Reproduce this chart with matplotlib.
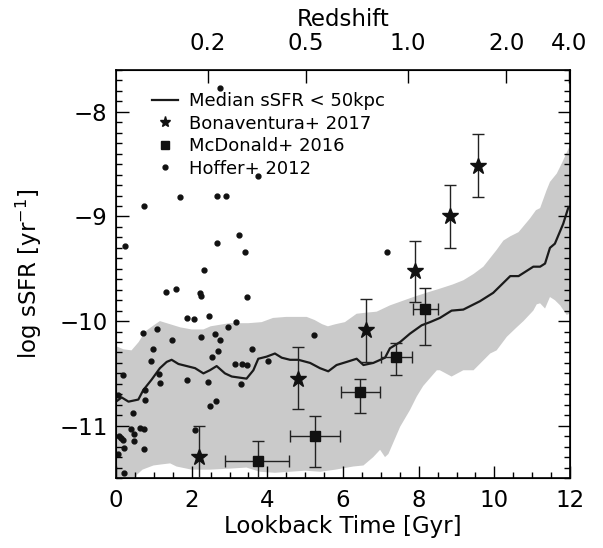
import numpy as np
import matplotlib.pyplot as plt
from matplotlib.ticker import MultipleLocator

# median sSFR within 50 kpc
med_t = [0.0, 0.15, 0.33, 0.59, 0.72, 0.94, 1.16, 1.34, 1.47, 1.65, 1.87, 2.09, 2.31, 2.48,
         2.66, 2.88, 3.06, 3.45, 3.63, 3.76, 3.98, 4.20, 4.38, 4.6, 4.82, 5.13, 5.39, 5.61,
         5.83, 6.10, 6.36, 6.54, 6.80, 7.11, 7.24, 7.51, 7.77, 8.08, 8.30, 8.56, 8.87, 9.18,
         9.62, 9.97, 10.42, 10.64, 11.03, 11.21, 11.34, 11.47, 11.60, 11.82, 11.96]
med_y = [-10.77, -10.73, -10.77, -10.75, -10.66, -10.56, -10.45, -10.39, -10.37, -10.41,
         -10.43, -10.45, -10.50, -10.47, -10.43, -10.50, -10.53, -10.55, -10.47, -10.36,
         -10.34, -10.31, -10.35, -10.37, -10.37, -10.40, -10.45, -10.48, -10.42, -10.39,
         -10.36, -10.42, -10.40, -10.35, -10.26, -10.20, -10.12, -10.04, -10.01, -9.97,
         -9.90, -9.89, -9.81, -9.73, -9.57, -9.57, -9.48, -9.48, -9.45, -9.30, -9.26,
         -9.07, -8.91]

# scatter band
hi_t = [0, 0.2, 0.41, 0.6, 0.77, 1.0, 1.16, 1.43, 1.7, 2.0, 2.31, 2.5, 3.0, 3.5, 3.85, 4.15,
        4.5, 5.04, 5.25, 5.45, 5.6, 5.8, 6.05, 6.36, 6.6, 6.89, 7.24, 7.55, 7.86, 8.2, 8.56,
        8.9, 9.18, 9.45, 9.71, 10.06, 10.24, 10.42, 10.64, 10.94, 11.1, 11.21, 11.38, 11.47,
        11.65, 11.8, 12.0]
hi_y = [-10.24, -10.27, -10.28, -10.2, -10.1, -10.04, -10.0, -10.03, -10.06, -10.08, -10.08,
        -10.05, -10.02, -10.02, -10.01, -9.97, -9.96, -9.96, -9.99, -10.03, -10.05, -10.03,
        -10.01, -9.93, -9.92, -9.91, -9.85, -9.81, -9.77, -9.73, -9.69, -9.65, -9.61, -9.55,
        -9.48, -9.32, -9.23, -9.19, -9.15, -9.02, -8.94, -8.92, -8.75, -8.67, -8.59, -8.48,
        -8.32]
lo_t = [0, 0.45, 0.55, 0.7, 0.99, 1.2, 1.43, 1.6, 2.0, 2.48, 3.01, 3.45, 3.8, 4.2, 4.6, 5.0,
        5.4, 5.8, 6.27, 6.54, 6.8, 6.98, 7.11, 7.2, 7.51, 7.77, 7.95, 8.12, 8.48, 8.56, 8.87,
        9.18, 9.45, 9.89, 10.06, 10.33, 10.59, 10.77, 11.03, 11.12, 11.21, 11.34, 11.47,
        11.6, 11.74, 11.91, 12.0]
lo_y = [-11.6, -11.6, -11.47, -11.42, -11.38, -11.37, -11.36, -11.39, -11.42, -11.42, -11.41,
        -11.4, -11.44, -11.45, -11.44, -11.43, -11.44, -11.42, -11.39, -11.38, -11.3, -11.23,
        -11.3, -11.27, -11.01, -10.85, -10.72, -10.62, -10.47, -10.47, -10.53, -10.47, -10.47,
        -10.31, -10.28, -10.15, -10.06, -10.0, -9.9, -9.84, -9.83, -9.88, -9.77, -9.8, -9.85,
        -9.94, -9.93]

# Bonaventura+ 2017
bon_t = [2.20, 4.80, 6.61, 7.89, 8.84, 9.58]
bon_y = [-11.30, -10.55, -10.09, -9.52, -9.00, -8.52]
bon_up = [-11.00, -10.25, -9.79, -9.23, -8.70, -8.21]
bon_dn = [-11.70, -10.84, -10.39, -9.82, -9.30, -8.81]

# McDonald+ 2016
mcd_t = [3.74, 5.27, 6.46, 7.41, 8.18]
mcd_y = [-11.34, -11.10, -10.68, -10.34, -9.88]
mcd_tlo = [2.88, 4.60, 5.94, 7.00, 7.84]
mcd_thi = [4.58, 5.92, 6.98, 7.82, 8.52]
mcd_up = [-11.15, -10.91, -10.55, -10.21, -9.68]
mcd_dn = [-11.70, -11.39, -10.88, -10.52, -10.23]

# Hoffer+ 2012
hof_t = [2.75, 3.74, 1.70, 2.68, 2.91, 0.73, 0.24, 3.26, 2.68, 3.42, 2.33, 1.31, 1.59, 2.22,
         2.24, 3.45, 1.87, 2.07, 2.46, 3.18, 2.97, 0.72, 1.09, 1.47, 2.24, 2.62, 2.74, 0.98,
         2.55, 2.69, 3.60, 5.23, 0.93, 0.19, 1.14, 1.17, 1.88, 2.44, 0.76, 0.05, 0.76, 2.64,
         2.48, 0.46, 0.40, 0.63, 0.73, 2.08, 0.47, 0.07, 0.13, 0.19, 0.47, 0.22, 0.73, 0.05,
         0.22, 3.15, 3.32, 3.46, 4.01, 3.31, 7.17]
hof_y = [-7.77, -8.61, -8.81, -8.80, -8.80, -8.90, -9.28, -9.18, -9.25, -9.34, -9.51, -9.72,
         -9.69, -9.73, -9.76, -9.77, -9.97, -9.98, -9.95, -10.01, -10.06, -10.11, -10.08,
         -10.18, -10.15, -10.12, -10.18, -10.27, -10.34, -10.29, -10.27, -10.13, -10.38,
         -10.52, -10.51, -10.59, -10.56, -10.58, -10.66, -10.71, -10.75, -10.76, -10.81,
         -10.88, -11.03, -11.02, -11.03, -11.04, -11.08, -11.10, -11.12, -11.14, -11.15,
         -11.21, -11.22, -11.27, -11.45, -10.41, -10.41, -10.42, -10.38, -10.60, -9.34]

# redshift axis
z_labels = ['0.2', '0.5', '1.0', '2.0', '4.0']
z_lookback = [2.43, 5.02, 7.72, 10.32, 11.97]

plt.rcParams['font.family'] = ['DejaVu Sans']
fig = plt.figure(figsize=(6.03, 5.48), dpi=100)
ax = fig.add_axes([0.1924, 0.1277, 0.7529, 0.7446])

band_x = np.concatenate([hi_t, lo_t[::-1]])
band_y = np.concatenate([hi_y, lo_y[::-1]])
ax.fill(band_x, band_y, color='#cacaca', lw=0, zorder=1)
ax.plot(med_t, med_y, color='#1a1a1a', lw=1.6, zorder=2)

ax.plot(hof_t, hof_y, 'o', color='#111111', ms=3.5, zorder=3)

bon_t = np.array(bon_t)
bon_y = np.array(bon_y)
ax.errorbar(bon_t, bon_y,
            yerr=[bon_y - np.array(bon_dn), np.array(bon_up) - bon_y],
            fmt='none', ecolor='#222222', elinewidth=1, capsize=4, capthick=1, zorder=4)
ax.plot(bon_t, bon_y, '*', color='#111111', ms=12, zorder=5)

mcd_t = np.array(mcd_t)
mcd_y = np.array(mcd_y)
ax.errorbar(mcd_t, mcd_y,
            xerr=[mcd_t - np.array(mcd_tlo), np.array(mcd_thi) - mcd_t],
            yerr=[mcd_y - np.array(mcd_dn), np.array(mcd_up) - mcd_y],
            fmt='none', ecolor='#222222', elinewidth=1, capsize=4, capthick=1, zorder=4)
ax.plot(mcd_t, mcd_y, 's', color='#111111', ms=7.5, zorder=5)

# legend handles
h_line, = ax.plot([], [], color='#1a1a1a', lw=1.6)
h_star, = ax.plot([], [], '*', color='#111111', ms=8)
h_sq, = ax.plot([], [], 's', color='#111111', ms=5.5)
h_dot, = ax.plot([], [], 'o', color='#111111', ms=3.5)
ax.legend([h_line, h_star, h_sq, h_dot],
          ['Median sSFR < 50kpc', 'Bonaventura+ 2017', 'McDonald+ 2016', 'Hoffer+ 2012'],
          loc='upper left', bbox_to_anchor=(0.04, 0.99), frameon=False, fontsize=13,
          handlelength=1.4, handletextpad=0.65, labelspacing=0.25, borderaxespad=0.6)

ax.set_xlim(0, 12)
ax.set_ylim(-11.5, -7.6)
ax.xaxis.set_major_locator(MultipleLocator(2))
ax.xaxis.set_minor_locator(MultipleLocator(0.5))
ax.yaxis.set_major_locator(MultipleLocator(1))
ax.yaxis.set_minor_locator(MultipleLocator(0.1))
ax.tick_params(which='both', direction='in', right=True, top=False, width=1)
ax.tick_params(which='major', length=9, labelsize=16.5)
ax.tick_params(axis='x', which='major', pad=8)
ax.tick_params(axis='y', which='major', pad=6)
ax.tick_params(which='minor', length=4.5)
ax.set_xlabel('Lookback Time [Gyr]', fontsize=16.5, labelpad=2)
ax.set_ylabel(r'log sSFR [yr$^{-1}$]', fontsize=16.5, labelpad=11)
for s in ax.spines.values():
    s.set_linewidth(1.2)

top = ax.twiny()
top.set_xlim(ax.get_xlim())
top.set_xticks(z_lookback)
top.set_xticklabels(z_labels)
top.tick_params(direction='in', length=9, width=1, labelsize=16.5, pad=11)
top.set_xlabel('Redshift', fontsize=16.5, labelpad=4)

fig.savefig('out.png', dpi=100)
